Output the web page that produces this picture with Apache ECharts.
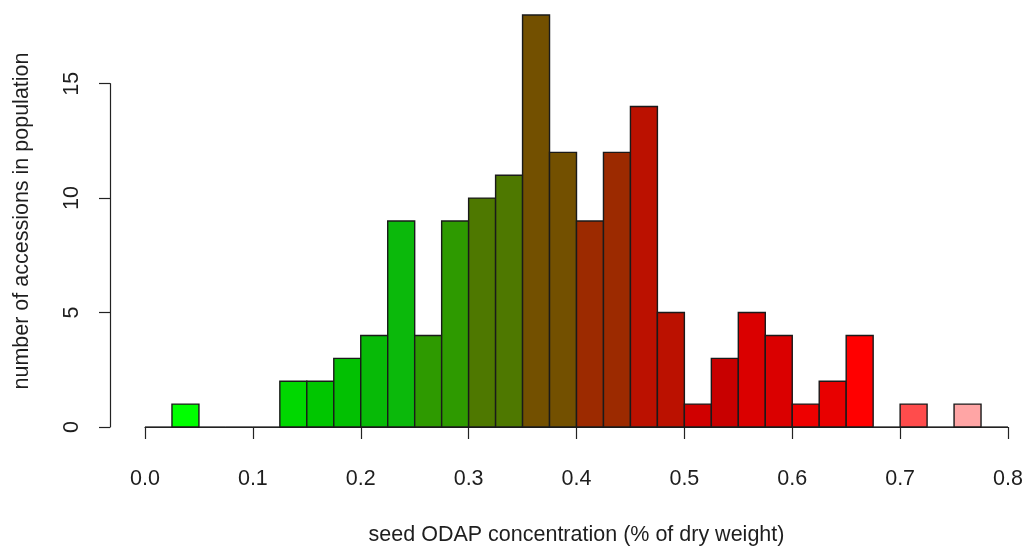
<!DOCTYPE html>
<html>
<head>
<meta charset="utf-8">
<script src="https://cdn.jsdelivr.net/npm/echarts@6/dist/echarts.min.js"></script>
<style>
html,body{margin:0;padding:0;background:#fff;}
#chart{width:1025px;height:548px;}
</style>
</head>
<body>
<div id="chart"></div>
<script>
// Histogram bin edges (seed ODAP concentration, % of dry weight)
const binEdges = [0.000,0.025,0.050,0.075,0.100,0.125,0.150,0.175,0.200,0.225,0.250,0.275,0.300,0.325,0.350,0.375,0.400,0.425,0.450,0.475,0.500,0.525,0.550,0.575,0.600,0.625,0.650,0.675,0.700,0.725,0.750,0.775,0.800];
// Counts per bin (number of accessions)
const counts = [0,1,0,0,0,2,2,3,4,9,4,9,10,11,18,12,9,12,14,5,1,3,5,4,1,2,4,0,1,0,1,0];
// Tick labels
const xTicks = ['0.0','0.1','0.2','0.3','0.4','0.5','0.6','0.7','0.8'];
const yTicks = ['0','5','10','15'];
const xTitle = 'seed ODAP concentration (% of dry weight)';
const yTitle = 'number of accessions in population';

// Fill colours per bin (style)
const barColors = [null,'#00FF00',null,null,null,'#00D800','#00C600','#02C002','#07BA07','#0BB90B','#2E9A00','#2E9A00','#4E7800','#4E7800','#735000','#735000','#9C2A00','#9C2A00','#BB1100','#BB1100','#D00000','#C80000','#DA0000','#DA0000','#EE0000','#E80000','#FF0000',null,'#FF4C4C',null,'#FFA5A5',null];

const data = counts.map((c, i) => [binEdges[i], binEdges[i + 1], c]);
const FONT = '"Liberation Sans", Arial, sans-serif';
const TXT = '#1e1e1e';
const FS = 21.5;

const chart = echarts.init(document.getElementById('chart'), null, {renderer: 'canvas'});
chart.setOption({
  animation: false,
  backgroundColor: '#fff',
  grid: [
    {left: 145, right: 17, top: 15, bottom: 121, containLabel: false, outerBoundsMode: 'none'},
    {left: 110, right: 17, top: 83.67, bottom: 121, containLabel: false, outerBoundsMode: 'none'}
  ],
  xAxis: [
    {
      gridIndex: 0, type: 'value', min: 0, max: 0.8, interval: 0.1, offset: 16,
      axisLine: {show: true, lineStyle: {color: '#222', width: 1.2}},
      axisTick: {show: true, length: 12, inside: false, lineStyle: {color: '#222', width: 1.2}},
      axisLabel: {show: true, margin: 25, fontSize: FS, fontFamily: FONT, color: TXT,
        formatter: v => { const i = Math.round(v * 10); return xTicks[i] !== undefined ? xTicks[i] : ''; }},
      splitLine: {show: false},
      name: xTitle, nameLocation: 'middle', nameGap: 81,
      nameTextStyle: {fontSize: FS, fontFamily: FONT, color: TXT}
    },
    {gridIndex: 1, type: 'value', min: 0, max: 1, show: false}
  ],
  yAxis: [
    {
      gridIndex: 0, type: 'value', min: 0, max: 18,
      axisLine: {show: false}, axisTick: {show: false}, axisLabel: {show: false}, splitLine: {show: false},
      name: yTitle, nameLocation: 'middle', nameGap: 112,
      nameTextStyle: {fontSize: FS, fontFamily: FONT, color: TXT}
    },
    {
      gridIndex: 1, type: 'value', min: 0, max: 15, interval: 5,
      axisLine: {show: true, lineStyle: {color: '#222', width: 1.2}},
      axisTick: {show: true, length: 11, inside: false, lineStyle: {color: '#222', width: 1.2}},
      axisLabel: {show: true, rotate: 90, margin: 27, fontSize: FS, fontFamily: FONT, color: TXT,
        formatter: v => { const i = Math.round(v / 5); return yTicks[i] !== undefined ? yTicks[i] : ''; }},
      splitLine: {show: false}
    }
  ],
  series: [{
    type: 'custom',
    xAxisIndex: 0, yAxisIndex: 0,
    data: data,
    renderItem: function (params, api) {
      const s = api.value(0), e = api.value(1), c = api.value(2);
      const p0 = api.coord([s, 0]);
      const p1 = api.coord([e, c]);
      if (c === 0) {
        return {type: 'line', shape: {x1: p0[0], y1: p0[1], x2: p1[0], y2: p0[1]},
          style: {stroke: '#222', lineWidth: 1.3}};
      }
      return {
        type: 'rect',
        shape: {x: p0[0], y: p1[1], width: p1[0] - p0[0], height: p0[1] - p1[1]},
        style: {fill: barColors[params.dataIndex], stroke: '#1a1a1a', lineWidth: 1.4}
      };
    }
  }]
});
</script>
</body>
</html>
